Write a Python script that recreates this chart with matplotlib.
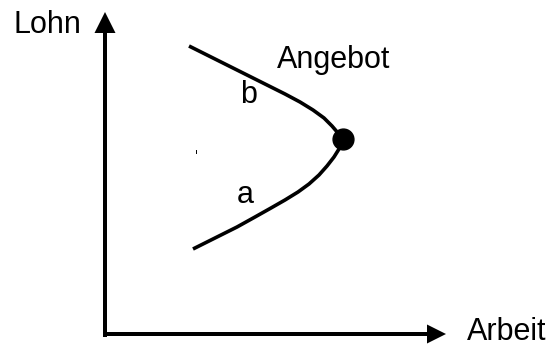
import numpy as np
import matplotlib
matplotlib.use("Agg")
import matplotlib.pyplot as plt

plt.rcParams["font.family"] = ["Liberation Sans", "DejaVu Sans"]

# Angebotskurve (Arbeit, Lohn), von oben (Ast b) nach unten (Ast a)
arbeit_b = [84, 100, 116, 132, 148, 164, 180, 195, 208, 219, 227, 233, 237]
lohn_b = [288, 280, 272, 264, 256, 248, 240, 232, 224, 216, 208, 201, 195]
arbeit_a = [237, 234, 229, 222, 214, 204, 193, 180, 166, 150, 132, 110, 88]
lohn_a = [193, 185, 177, 168, 159, 150, 142, 134, 126, 117, 107, 96, 85]

# Wendepunkt
punkt_arbeit = 238
punkt_lohn = 195

# Achsen
x_achse_ende = 341
y_achse_ende = 322

# Beschriftungen
label_lohn = "Lohn"
label_arbeit = "Arbeit"
label_angebot = "Angebot"
label_a = "a"
label_b = "b"

fig = plt.figure(figsize=(5.54, 3.47), dpi=100)
ax = fig.add_axes([0, 0, 1, 1])
ax.set_xlim(-105, 449)
ax.set_ylim(-13, 334)
ax.axis("off")

# Achsen mit Pfeilen
ax.arrow(-2, 0, x_achse_ende + 2, 0, width=4, head_width=19, head_length=19,
         length_includes_head=True, color="black", lw=0)
ax.arrow(0, -3, 0, y_achse_ende + 3, width=4, head_width=21, head_length=21,
         length_includes_head=True, color="black", lw=0)

# Kurve
arbeit = arbeit_b + arbeit_a
lohn = lohn_b + lohn_a
ax.plot(arbeit, lohn, color="black", lw=2.6, solid_capstyle="butt", solid_joinstyle="round")
ax.plot(punkt_arbeit, punkt_lohn, "o", color="black", markersize=15)

# kleiner Strich (im Original vorhanden)
ax.plot([91, 91], [181, 184], color="black", lw=0.7)

fs = 22
ax.text(-92, 301, label_lohn, fontsize=fs, ha="left", va="baseline")
ax.text(362, -6, label_arbeit, fontsize=fs, ha="left", va="baseline")
ax.text(172, 266, label_angebot, fontsize=fs, ha="left", va="baseline")
ax.text(135, 231, label_b, fontsize=fs, ha="left", va="baseline")
ax.text(132, 131, label_a, fontsize=fs, ha="left", va="baseline")

fig.savefig("out.png", dpi=100, facecolor="white")
